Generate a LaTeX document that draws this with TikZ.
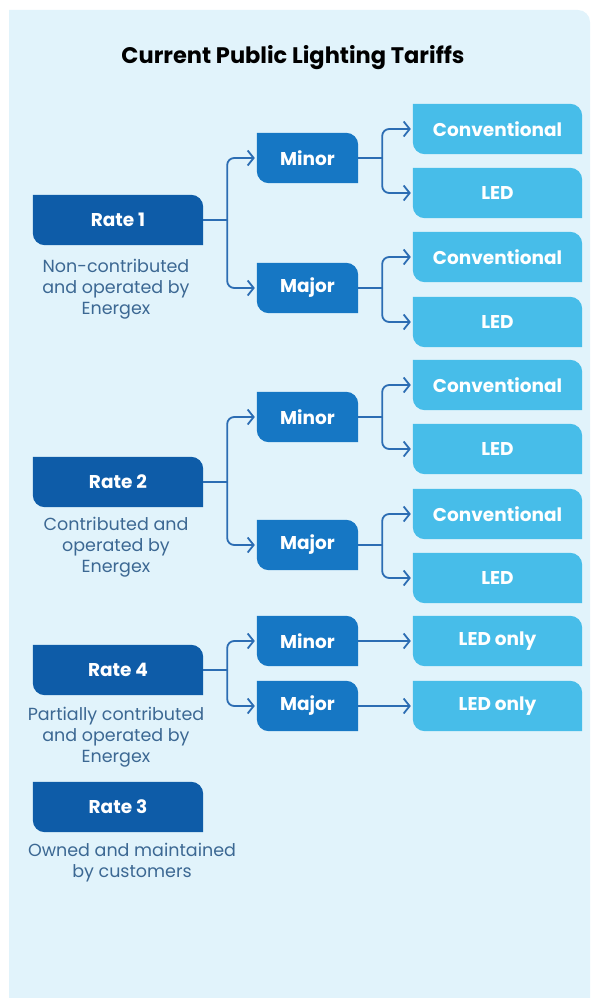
\documentclass[tikz,border=0pt]{standalone}
\usepackage{fontspec}
\setmainfont{Poppins}
\usetikzlibrary{arrows.meta}
\definecolor{bgc}{HTML}{E1F3FB}
\definecolor{ratec}{HTML}{0E5CA8}
\definecolor{midc}{HTML}{1677C4}
\definecolor{leafc}{HTML}{47BDE9}
\definecolor{linec}{HTML}{2C6DB3}
\definecolor{descc}{HTML}{3C6893}
\pgfdeclarelayer{background}
\pgfsetlayers{background,main}
\newcommand{\leafshape}[2]{%
  \fill[#2] (#1.north west) -- ([xshift=-12pt]#1.north east)
    arc[start angle=90,end angle=0,radius=12pt] -- (#1.south east)
    -- ([xshift=12pt]#1.south west)
    arc[start angle=270,end angle=180,radius=12pt] -- cycle;}
\tikzset{
  boxtext/.style={inner sep=0pt, minimum height=50pt, text=white,
    font=\bfseries\fontsize{18.5}{22}\selectfont},
  ratebox/.style={boxtext, minimum width=170pt},
  midbox/.style={boxtext, minimum width=101pt},
  leafbox/.style={boxtext, minimum width=169pt},
  desc/.style={align=center, text=descc, inner sep=0pt,
    font=\fontsize{17.5}{21}\selectfont},
  conn/.style={draw=linec, line width=1.8pt, rounded corners=7pt},
  arr/.style={-{Straight Barb[length=6pt,width=15pt]}, shorten >=2pt}
}
\begin{document}
\begin{tikzpicture}[x=1pt,y=-1pt]
\useasboundingbox (0,0) rectangle (593,998);
% title
\node[font=\bfseries\fontsize{22.5}{26}\selectfont, text=black] (title) at (293,58) {Current Public Lighting Tariffs};
% rate boxes
\node[ratebox] (r1) at (118,220) {Rate 1};
\node[ratebox] (r2) at (118,482) {Rate 2};
\node[ratebox] (r4) at (118,670) {Rate 4};
\node[ratebox] (r3) at (118,807) {Rate 3};
% descriptions
\node[desc] (d1) at (116,289) {Non-contributed\\and operated by\\Energex};
\node[desc] (d2) at (116,547) {Contributed and\\operated by\\Energex};
\node[desc] (d4) at (116,737) {Partially contributed\\and operated by\\Energex};
\node[desc] (d3) at (132,863) {Owned and maintained\\by customers};
% middle boxes
\node[midbox] (m1a) at (307.5,158) {Minor};
\node[midbox] (m1b) at (307.5,288) {Major};
\node[midbox] (m2a) at (307.5,417) {Minor};
\node[midbox] (m2b) at (307.5,545) {Major};
\node[midbox] (m4a) at (307.5,641) {Minor};
\node[midbox] (m4b) at (307.5,706) {Major};
% leaf boxes
\node[leafbox] (l1) at (497.5,129) {Conventional};
\node[leafbox] (l2) at (497.5,193) {LED};
\node[leafbox] (l3) at (497.5,257) {Conventional};
\node[leafbox] (l4) at (497.5,322) {LED};
\node[leafbox] (l5) at (497.5,385) {Conventional};
\node[leafbox] (l6) at (497.5,449) {LED};
\node[leafbox] (l7) at (497.5,514) {Conventional};
\node[leafbox] (l8) at (497.5,578) {LED};
\node[leafbox] (l9) at (497.5,641) {LED only};
\node[leafbox] (l10) at (497.5,706) {LED only};
% junctions
\coordinate (j1) at ([xshift=24pt]r1.east);
\coordinate (j2) at ([xshift=24pt]r2.east);
\coordinate (j4) at ([xshift=24pt]r4.east);
\coordinate (k1a) at ([xshift=24pt]m1a.east);
\coordinate (k1b) at ([xshift=24pt]m1b.east);
\coordinate (k2a) at ([xshift=24pt]m2a.east);
\coordinate (k2b) at ([xshift=24pt]m2b.east);
% connectors rate -> middle
\draw[conn] (r1.east) -- (j1);
\draw[conn,arr] (j1) |- (m1a.west);
\draw[conn,arr] (j1) |- (m1b.west);
\draw[conn] (r2.east) -- (j2);
\draw[conn,arr] (j2) |- (m2a.west);
\draw[conn,arr] (j2) |- (m2b.west);
\draw[conn] (r4.east) -- (j4);
\draw[conn,arr] (j4) |- (m4a.west);
\draw[conn,arr] (j4) |- (m4b.west);
% connectors middle -> leaf
\draw[conn] (m1a.east) -- (k1a);
\draw[conn,arr] (k1a) |- (l1.west);
\draw[conn,arr] (k1a) |- (l2.west);
\draw[conn] (m1b.east) -- (k1b);
\draw[conn,arr] (k1b) |- (l3.west);
\draw[conn,arr] (k1b) |- (l4.west);
\draw[conn] (m2a.east) -- (k2a);
\draw[conn,arr] (k2a) |- (l5.west);
\draw[conn,arr] (k2a) |- (l6.west);
\draw[conn] (m2b.east) -- (k2b);
\draw[conn,arr] (k2b) |- (l7.west);
\draw[conn,arr] (k2b) |- (l8.west);
\draw[conn,arr] (m4a.east) -- (l9.west);
\draw[conn,arr] (m4b.east) -- (l10.west);
% shapes
\begin{pgfonlayer}{background}
\fill[bgc] (9,998) -- (9,10) -- (578,10) arc[start angle=90,end angle=0,radius=12pt] -- (590,998) -- cycle;
\foreach \n in {r1,r2,r4,r3} {\leafshape{\n}{ratec}}
\foreach \n in {m1a,m1b,m2a,m2b,m4a,m4b} {\leafshape{\n}{midc}}
\foreach \n in {l1,l2,l3,l4,l5,l6,l7,l8,l9,l10} {\leafshape{\n}{leafc}}
\end{pgfonlayer}
\end{tikzpicture}
\end{document}
